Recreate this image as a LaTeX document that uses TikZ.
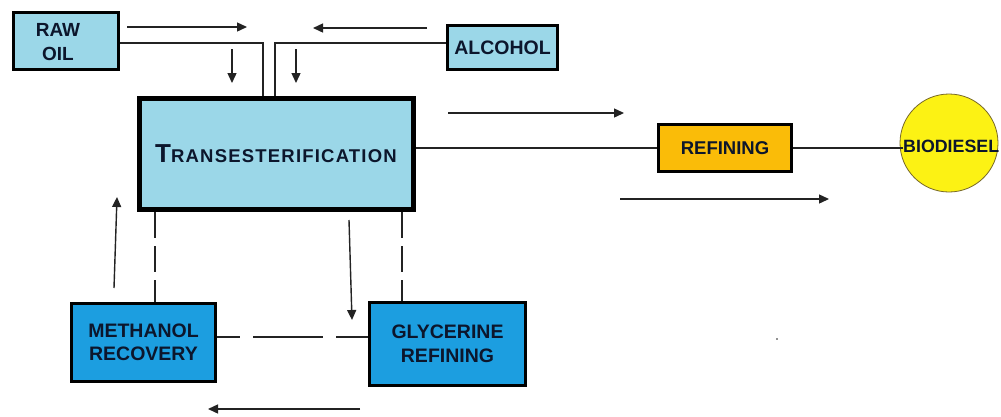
\documentclass[tikz,border=0pt]{standalone}
\usepackage{fontspec}
\setmainfont{Liberation Sans}
\usetikzlibrary{arrows.meta}
\definecolor{lblue}{RGB}{155,215,232}
\definecolor{dblue}{RGB}{28,158,224}
\definecolor{orng}{RGB}{250,188,8}
\definecolor{ylw}{RGB}{252,242,20}
\definecolor{ink}{RGB}{12,22,44}
\definecolor{lin}{RGB}{35,35,35}
\definecolor{olive}{RGB}{120,105,40}
\tikzset{
  boxlight/.style={draw=black, fill=lblue, line width=3pt, inner sep=0pt},
  boxdark/.style={draw=black, fill=dblue, line width=3pt, inner sep=0pt, text=ink, align=center, font=\bfseries\fontsize{19.5}{23.5}\selectfont},
  boxref/.style={draw=black, fill=orng, line width=3pt, inner sep=0pt, text=ink, font=\bfseries\fontsize{18.5}{22}\selectfont},
  lbl/.style={inner sep=0pt, text=ink, align=center, font=\bfseries\fontsize{19}{24}\selectfont},
  feed/.style={draw=lin, line width=1.4pt},
  flow/.style={draw=lin, line width=1.4pt, -{Triangle[length=10pt,width=9pt]}},
  dashlink/.style={draw=lin, line width=1.4pt, dash pattern=on 26pt off 8pt},
  hdashlink/.style={draw=lin, line width=1.4pt, dash pattern=on 70pt off 13pt, dash phase=47pt}
}
\begin{document}
\begin{tikzpicture}[x=1pt,y=-1pt]
\useasboundingbox[fill=white] (0,0) rectangle (1001,416);
% boxes
\node[boxlight, minimum width=105pt, minimum height=57pt] (raw) at (66,41) {};
\node[lbl] (rawtxt) at (58,42) {RAW\\OIL};
\node[boxlight, minimum width=110pt, minimum height=44pt, text=ink, font=\bfseries\fontsize{19.5}{23}\selectfont] (alc) at (502.5,47.5) {ALCOHOL};
\node[boxlight, line width=5pt, minimum width=274pt, minimum height=111pt, text=ink] (trans) at (276,154)
  {\bfseries{\fontsize{26}{26}\selectfont T}{\addfontfeatures{LetterSpace=6.5}\fontsize{18.5}{18.5}\selectfont RANSESTERIFICATION}};
\node[boxref, minimum width=133pt, minimum height=47pt] (ref) at (725,148) {REFINING};
\node[circle, draw=olive, fill=ylw, line width=0.8pt, minimum size=98pt, inner sep=0pt] (bio) at (949,143) {};
\node[inner sep=0pt, anchor=west, text=ink, font=\bfseries\fontsize{17.8}{22}\selectfont] (biotext) at (903,146) {BIODIESEL};
\node[boxdark, minimum width=144pt, minimum height=78pt] (meth) at (143.5,342.5) {METHANOL\\RECOVERY};
\node[boxdark, minimum width=156pt, minimum height=83pt] (gly) at (447.5,344) {GLYCERINE\\REFINING};
% junction coordinates
\coordinate (jr) at (263,43);
\coordinate (ja) at (275,43);
\coordinate (dl) at (155,0);
\coordinate (dr) at (402,0);
\coordinate (dh) at (0,337);
% feed lines
\draw[feed] (raw.east |- jr) -- (jr) -- (jr |- trans.north);
\draw[feed] (alc.west |- ja) -- (ja) -- (ja |- trans.north);
\draw[feed] (trans.east |- ref.west) -- (ref.west);
\draw[feed] (ref.east) -- (ref.east -| biotext.west);
% dashed links
\draw[dashlink] (trans.south -| dl) -- (meth.north -| dl);
\draw[dashlink] (trans.south -| dr) -- (gly.north -| dr);
\draw[hdashlink] (meth.east |- dh) -- (gly.west |- dh);
% free arrows
\coordinate (a1s) at (127,27); \coordinate (a1e) at (247,27);
\coordinate (a2s) at (427,28); \coordinate (a2e) at (313,28);
\coordinate (a3s) at (232,49); \coordinate (a3e) at (232,83);
\coordinate (a4s) at (296,49); \coordinate (a4e) at (296,83);
\coordinate (a5s) at (448,113); \coordinate (a5e) at (624,113);
\coordinate (a6s) at (620,199); \coordinate (a6e) at (829,199);
\coordinate (a7s) at (114,288); \coordinate (a7e) at (117,197);
\coordinate (a8s) at (349,220); \coordinate (a8e) at (352,320);
\coordinate (a9s) at (360,409); \coordinate (a9e) at (208,409);
\draw[flow] (a1s) -- (a1e);
\draw[flow] (a2s) -- (a2e);
\draw[flow] (a3s) -- (a3e);
\draw[flow] (a4s) -- (a4e);
\draw[flow] (a5s) -- (a5e);
\draw[flow] (a6s) -- (a6e);
\draw[flow] (a7s) -- (a7e);
\draw[flow] (a8s) -- (a8e);
\draw[flow] (a9s) -- (a9e);
% small speck
\fill[lin] (777,339) circle (0.9);
\end{tikzpicture}
\end{document}
